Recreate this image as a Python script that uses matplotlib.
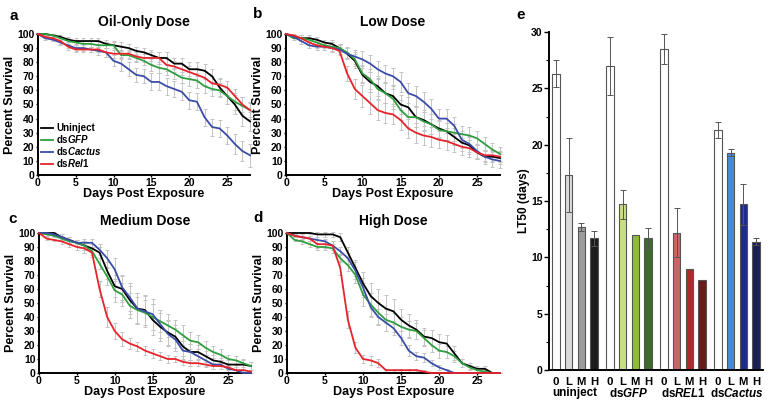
import matplotlib
matplotlib.use("Agg")
import matplotlib.pyplot as plt
import numpy as np

plt.rcParams['font.family'] = ['Liberation Sans', 'DejaVu Sans']
plt.rcParams['font.weight'] = 'bold'
plt.rcParams['mathtext.fontset'] = 'custom'
plt.rcParams['mathtext.rm'] = 'Liberation Sans:bold'
plt.rcParams['mathtext.it'] = 'Liberation Sans:bold:italic'
plt.rcParams['mathtext.bf'] = 'Liberation Sans:bold'

days = list(range(29))
series_names = ['Uninject', 'ds$GFP$', 'ds$Cactus$', 'ds$Rel1$']
series_colors = ['#000000', '#2e9e3e', '#3a4da6', '#e8232b']

# ---- Panel a: Oil-only dose ----
a_uninject = [100,100,99,98,96,95,95,95,95,93,92,91,90,88,87,85,83,83,79,79,75,75,74,70,62,56,50,42,38]
a_gfp      = [100,100,99,97,95,94,93,93,92,92,92,85,85,83,81,78,76,75,72,69,68,67,63,61,60,56,52,49,46]
a_cactus   = [100,97,96,94,92,90,90,89,88,87,81,79,75,71,70,66,66,63,61,59,53,52,41,34,33,28,22,17,14]
a_rel1     = [100,98,97,95,91,89,89,89,89,87,86,86,86,84,83,83,83,78,77,75,73,71,69,65,64,62,56,50,46]
a_err_uninject = [0,0,1,1,2,2,2,2,2,3,3,3,3,3,3,4,4,4,4,4,5,5,5,5,6,6,7,7,7]
a_err_gfp      = [0,0,1,1,2,2,2,2,2,2,2,3,3,3,3,4,4,4,4,4,5,5,5,5,5,6,6,6,6]
a_err_cactus   = [0,1,1,2,2,2,2,2,3,3,4,5,5,5,5,6,6,6,6,6,6,6,6,6,6,6,7,7,8]
a_err_rel1     = [0,1,1,2,2,2,2,2,2,3,3,3,3,3,3,4,4,4,4,4,4,5,5,5,5,5,5,5,5]

# ---- Panel b: Low dose ----
b_uninject = [100,98,97,97,96,94,93,90,86,81,71,66,63,58,56,50,48,41,39,36,33,31,27,23,21,16,13,13,12]
b_gfp      = [100,97,97,96,94,92,91,90,87,82,72,68,61,58,54,46,41,41,38,36,32,31,30,29,28,26,22,18,15]
b_cactus   = [100,98,95,92,91,91,90,89,86,84,82,79,75,72,70,66,58,56,52,47,40,40,35,25,22,17,13,11,10]
b_rel1     = [100,99,97,94,92,91,90,88,72,61,56,51,46,44,43,39,33,30,28,27,25,24,22,20,19,16,14,14,13]
b_err_uninject = [0,1,2,2,2,2,3,3,4,5,6,7,7,7,7,7,7,7,7,7,6,6,6,6,6,5,4,4,4]
b_err_gfp      = [0,1,2,2,2,2,3,3,4,5,6,7,7,7,7,7,7,7,7,7,6,6,6,6,6,5,5,5,5]
b_err_cactus   = [0,1,2,2,2,2,3,3,4,5,6,6,6,6,6,7,7,7,7,7,7,7,6,6,6,5,5,5,5]
b_err_rel1     = [0,1,2,2,2,2,3,3,5,7,8,8,7,7,7,7,7,7,7,7,6,6,6,6,6,5,4,4,4]

# ---- Panel c: Medium dose ----
c_uninject = [100,100,100,97,95,93,91,89,86,73,62,60,52,46,45,38,33,29,26,19,15,15,12,9,8,6,6,6,5]
c_gfp      = [100,99,98,96,94,93,91,87,78,69,59,56,48,45,43,40,37,34,31,27,23,22,18,15,13,10,9,7,5]
c_cactus   = [100,100,99,97,95,93,93,93,88,82,74,61,54,46,44,42,35,28,24,16,15,12,9,6,6,3,2,0,0]
c_rel1     = [100,96,95,94,92,90,89,86,60,40,30,24,21,19,16,14,12,10,10,8,7,7,6,5,5,4,2,2,1]
c_err_uninject = [0,0,1,2,2,2,3,3,4,6,8,9,10,11,11,11,10,9,8,7,6,5,4,4,3,3,3,3,3]
c_err_gfp      = [0,1,1,2,2,2,3,3,4,6,8,8,9,9,9,9,8,8,7,7,6,5,5,4,4,3,3,3,3]
c_err_cactus   = [0,0,1,2,2,2,3,3,4,6,8,9,10,11,11,11,10,9,8,7,6,5,4,3,3,2,2,0,0]
c_err_rel1     = [0,1,1,2,2,2,3,3,6,7,6,5,4,3,3,3,3,3,2,2,2,2,2,2,2,2,1,1,1]

# ---- Panel d: High dose ----
d_uninject = [100,100,100,100,99,99,99,97,86,75,64,55,50,46,44,38,34,31,26,25,22,21,14,7,5,3,3,0,0]
d_gfp      = [100,95,94,92,90,90,89,82,77,70,56,49,43,38,36,33,31,30,25,20,16,15,12,7,4,2,1,0,0]
d_cactus   = [100,98,97,96,95,94,91,87,82,73,61,47,40,36,32,25,16,12,11,7,4,2,0,0,0,0,0,0,0]
d_rel1     = [100,98,97,96,92,92,91,75,38,18,10,9,7,2,2,2,2,2,1,0,0,0,0,0,0,0,0,0,0]
d_err_uninject = [0,0,1,1,2,2,2,3,4,6,8,9,10,10,9,8,8,7,6,6,6,6,5,3,2,2,2,0,0]
d_err_gfp      = [0,1,2,2,2,2,3,3,4,6,8,8,8,8,7,7,6,6,6,5,5,4,4,3,2,1,1,0,0]
d_err_cactus   = [0,1,1,2,2,2,3,3,4,6,7,7,6,6,5,5,4,3,3,2,2,1,0,0,0,0,0,0,0]
d_err_rel1     = [0,1,2,2,3,3,3,5,6,4,3,3,3,1,1,1,1,1,1,0,0,0,0,0,0,0,0,0,0]

panels = [
    ('a', 'Oil-Only Dose', [a_uninject, a_gfp, a_cactus, a_rel1],
     [a_err_uninject, a_err_gfp, a_err_cactus, a_err_rel1]),
    ('b', 'Low Dose', [b_uninject, b_gfp, b_cactus, b_rel1],
     [b_err_uninject, b_err_gfp, b_err_cactus, b_err_rel1]),
    ('c', 'Medium Dose', [c_uninject, c_gfp, c_cactus, c_rel1],
     [c_err_uninject, c_err_gfp, c_err_cactus, c_err_rel1]),
    ('d', 'High Dose', [d_uninject, d_gfp, d_cactus, d_rel1],
     [d_err_uninject, d_err_gfp, d_err_cactus, d_err_rel1]),
]

# ---- Panel e: LT50 ----
groups = ['uninject', 'ds$GFP$', 'ds$REL1$', 'ds$Cactus$']
doses = ['0', 'L', 'M', 'H']
lt50_uninject = [26.3, 17.3, 12.7, 11.7]
lt50_gfp      = [27.0, 14.7, 12.0, 11.7]
lt50_rel1     = [28.5, 12.2, 9.0, 8.0]
lt50_cactus   = [21.3, 19.3, 14.7, 11.4]
err_uninject  = [1.2, 3.3, 0.35, 0.65]
err_gfp       = [2.6, 1.3, 0.0, 0.9]
err_rel1      = [1.3, 2.2, 0.0, 0.0]
err_cactus    = [0.7, 0.35, 1.8, 0.3]
bar_colors = [
    ['#ffffff', '#d9d9d9', '#9c9c9c', '#1b1b1b'],
    ['#ffffff', '#c9df85', '#8fbc36', '#3d6b29'],
    ['#ffffff', '#c96565', '#ae2a2a', '#6a1b1b'],
    ['#ffffff', '#4a8bd0', '#1f2b8c', '#1b1e55'],
]

W, H = 770, 407
fig = plt.figure(figsize=(7.7, 4.07), dpi=100)

def px_axes(x0, y0, x1, y1):
    return fig.add_axes([x0 / W, 1 - y1 / H, (x1 - x0) / W, (y1 - y0) / H])

boxes = {'a': (37.7, 34, 250, 175), 'b': (286, 34, 500, 175),
         'c': (39, 233, 251, 373), 'd': (287, 233, 500, 373)}
letter_pos = {'a': (14, 16), 'b': (258, 14), 'c': (13, 219), 'd': (258, 218)}

for letter, title, ys, errs in panels:
    ax = px_axes(*boxes[letter])
    for y, e, col in zip(ys, errs, series_colors):
        ax.errorbar(days, y, yerr=e, fmt='none', ecolor='#c4c4c4',
                     elinewidth=0.7, capsize=1.6, capthick=0.7, zorder=1, clip_on=False)
    for y, col, name in zip(ys, series_colors, series_names):
        ax.plot(days, y, color=col, lw=1.3, label=name, zorder=3, clip_on=False)
    ax.set_xlim(0, 28)
    ax.set_ylim(0, 100)
    ax.set_xticks([0, 5, 10, 15, 20, 25])
    ax.set_yticks(range(0, 101, 10))
    ax.tick_params(axis='both', length=1.5, width=1, pad=1, labelsize=7.5)
    for lab in ax.get_xticklabels() + ax.get_yticklabels():
        lab.set_fontweight('bold')
    for s in ['top', 'right']:
        ax.spines[s].set_visible(False)
    for s in ['left', 'bottom']:
        ax.spines[s].set_linewidth(1.4)
    ax.set_title(title, fontsize=10, fontweight='bold', pad=6)
    ax.set_xlabel('Days Post Exposure', fontsize=9, fontweight='bold', labelpad=0)
    ax.set_ylabel('Percent Survival', fontsize=9, fontweight='bold', labelpad=1)
    lx, ly = letter_pos[letter]
    fig.text(lx / W, 1 - ly / H, letter, fontsize=11, fontweight='bold', ha='center', va='center')
    if letter == 'a':
        leg = ax.legend(loc='lower left', bbox_to_anchor=(0.0, 0.02), frameon=False,
                        fontsize=7, handlelength=1.3, handletextpad=0.3,
                        labelspacing=0.0, borderaxespad=0.2, borderpad=0.1)
        for t in leg.get_texts():
            t.set_fontweight('bold')

# Panel e
axe = px_axes(549, 32, 763, 370)
spacing = 4.3
all_vals = [lt50_uninject, lt50_gfp, lt50_rel1, lt50_cactus]
all_errs = [err_uninject, err_gfp, err_rel1, err_cactus]
positions = []
labels = []
for g, (vals, errs, cols) in enumerate(zip(all_vals, all_errs, bar_colors)):
    xs = [g * spacing + i for i in range(4)]
    positions += xs
    labels += doses
    axe.bar(xs, vals, width=0.6, color=cols, edgecolor='#555555', linewidth=0.8, zorder=2)
    for x, v, e in zip(xs, vals, errs):
        if e > 0:
            axe.errorbar(x, v, yerr=e, fmt='none', ecolor='#555555', elinewidth=0.7,
                         capsize=2, capthick=0.7, zorder=3)
    gx = g * spacing + 1.5
    axe.text(gx, -2.05, groups[g], ha='center', va='center', fontsize=8.4, fontweight='bold')

axe.set_xlim(-0.57, 3 * spacing + 3 + 0.57)
axe.set_ylim(0, 30)
axe.set_xticks(positions)
axe.set_xticklabels(labels, fontsize=8.2, fontweight='bold')
axe.tick_params(axis='x', length=0, pad=5)
axe.set_yticks(range(0, 31, 5))
axe.set_yticks(np.arange(2.5, 30, 5), minor=True)
axe.tick_params(axis='y', which='major', length=3.5, width=1, labelsize=7.5, pad=1)
axe.tick_params(axis='y', which='minor', length=2.2, width=0.8)
for lab in axe.get_yticklabels():
    lab.set_fontweight('bold')
for s in ['top', 'right']:
    axe.spines[s].set_visible(False)
for s in ['left', 'bottom']:
    axe.spines[s].set_linewidth(1.4)
axe.set_ylabel('LT50 (days)', fontsize=8.5, fontweight='bold', labelpad=1)
fig.text(521 / W, 1 - 15 / H, 'e', fontsize=11, fontweight='bold', ha='center', va='center')

fig.savefig('out.png', dpi=100)
